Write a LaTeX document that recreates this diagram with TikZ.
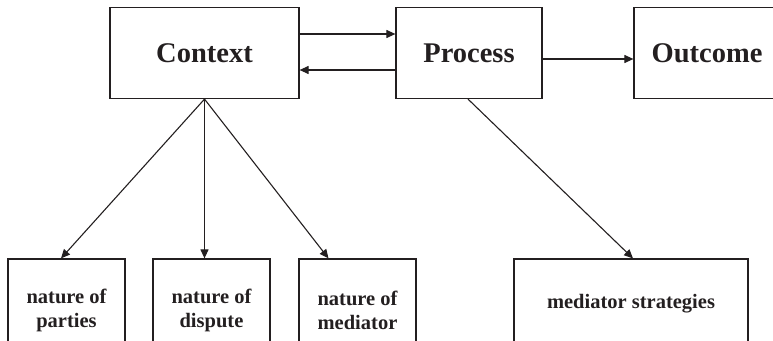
\documentclass[tikz,border=0pt]{standalone}
\usepackage{fontspec}
\setmainfont{Liberation Serif}
\usetikzlibrary{arrows.meta,calc}
\definecolor{ink}{HTML}{231F20}
\tikzset{
  box/.style={draw=ink, line width=1.2pt, rectangle, inner sep=0pt, text=ink, font=\bfseries\fontsize{28.5}{32}\selectfont},
  smallbox/.style={box, align=center, font=\bfseries\fontsize{20.5}{24}\selectfont},
  conn/.style={draw=ink, line width=1.1pt, -{Triangle[length=9pt,width=8pt]}}
}
\begin{document}
\begin{tikzpicture}[x=1pt,y=-1pt]
\useasboundingbox (0,0) rectangle (773,340);
\clip (0,0) rectangle (773,340);
\node[box, minimum width=189pt, minimum height=91pt] (ctx) at (204.5,53) {Context};
\node[box, minimum width=146pt, minimum height=91pt] (proc) at (469,53) {Process};
\node[box, minimum width=146pt, minimum height=91pt] (out) at (707,53) {Outcome};
\node[smallbox, minimum width=117pt, minimum height=102pt] (par) at (66.5,310) {nature of\\parties};
\node[smallbox, minimum width=117pt, minimum height=102pt] (dis) at (211.5,310) {nature of\\dispute};
\node[smallbox, minimum width=117pt, minimum height=102pt] (med) at (357.5,310) {nature of\\mediator};
\node[smallbox, minimum width=234pt, minimum height=84pt, text depth=0pt] (str) at (631,301) {mediator strategies};
\draw[conn] ($(ctx.east)+(0,-19)$) -- ($(proc.west)+(0,-19)$);
\draw[conn] ($(proc.west)+(0,17)$) -- ($(ctx.east)+(0,17)$);
\draw[conn] ($(proc.east)+(0,6)$) -- ($(out.west)+(0,6)$);
\draw[conn] (ctx.south) -- ($(par.north)+(-5.5,0)$);
\draw[conn] (ctx.south) -- ($(dis.north)+(-7,0)$);
\draw[conn] (ctx.south) -- ($(med.north)+(-29,0)$);
\draw[conn] ($(proc.south)+(-1,0)$) -- ($(str.north)+(2,0)$);
\end{tikzpicture}
\end{document}
